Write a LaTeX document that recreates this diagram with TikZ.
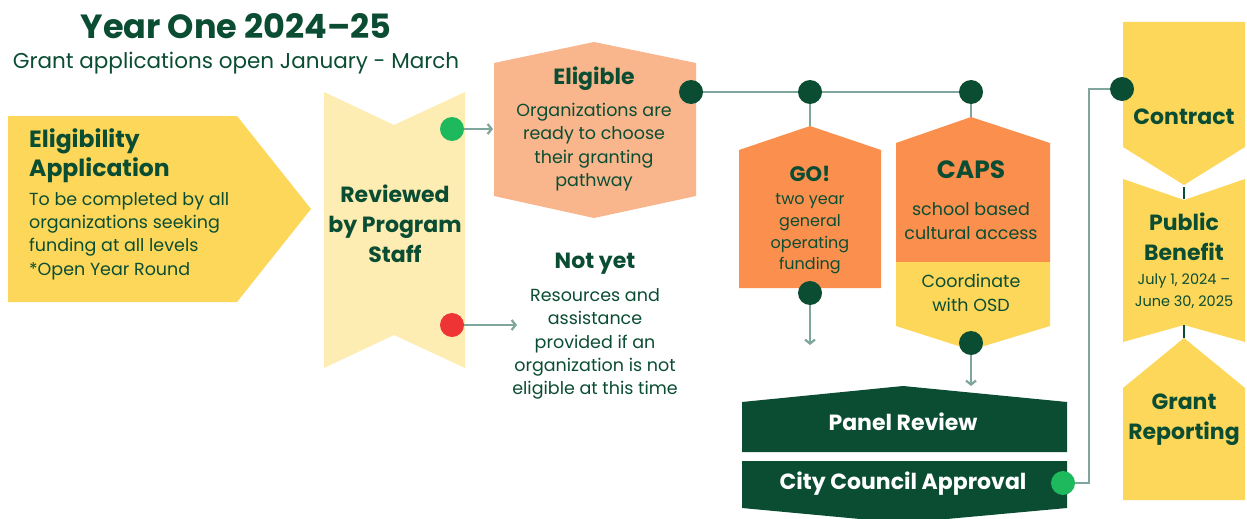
\documentclass[tikz,border=0pt]{standalone}
\usepackage{fontspec}
\setmainfont{Poppins}
\usepackage{tikz}
\usetikzlibrary{arrows.meta}

\definecolor{pinegreen}{HTML}{0B4D33}
\definecolor{sunyellow}{HTML}{FCD75A}
\definecolor{paleyellow}{HTML}{FDEDB3}
\definecolor{peach}{HTML}{F9B58B}
\definecolor{tangerine}{HTML}{FB8F4D}
\definecolor{gogreen}{HTML}{1DB95C}
\definecolor{stopred}{HTML}{EE3434}
\definecolor{sage}{HTML}{7FA69C}

\begin{document}
\begin{tikzpicture}
    \tikzset{x={(1pt, 0pt)}, y={(0pt, -1pt)},
        head/.style={inner sep=0pt, text=pinegreen, align=center, font=\fontsize{22}{30}\selectfont\bfseries},
        body/.style={inner sep=0pt, text=pinegreen, align=center, font=\fontsize{17.5}{23.3}\selectfont},
        small/.style={inner sep=0pt, text=pinegreen, align=center, font=\fontsize{16}{21.7}\selectfont},
        dot/.style={circle, inner sep=0pt, minimum size=24pt},
        link/.style={draw=sage, line width=2.6pt},
        flow/.style={link, -{Straight Barb[length=4pt, width=10pt, line width=2.2pt]}},
        joint/.style={draw=pinegreen, line width=2pt}}
    \useasboundingbox (0, 0) rectangle (1247, 519);
    \fill[white] (0, 0) rectangle (1247, 519);

    % title
    \node[inner sep=0pt, text=pinegreen, font=\fontsize{33.5}{38}\selectfont\bfseries] (title) at (236, 26) {Year One 2024--25};
    \node[inner sep=0pt, text=pinegreen, font=\fontsize{21.5}{25}\selectfont] (subtitle) at (236, 63) {Grant applications open January - March};

    % shapes
    \fill[sunyellow]  (   8, 116) -- ( 237, 116) -- ( 311, 209) -- ( 237, 302) -- (   8, 302) -- cycle;
    \fill[paleyellow] ( 324,  92) -- ( 394, 125) -- ( 465,  92) -- ( 465, 368) -- ( 394, 335) -- ( 324, 368) -- cycle;
    \fill[peach]      ( 594,  42) -- ( 696,  63) -- ( 696, 196) -- ( 594, 218) -- ( 494, 196) -- ( 494,  63) -- cycle;
    \fill[tangerine]  ( 810, 126) -- ( 881, 150) -- ( 881, 288) -- ( 739, 288) -- ( 739, 150) -- cycle;
    \fill[tangerine]  ( 971, 117) -- (1050, 143) -- (1050, 262) -- ( 896, 262) -- ( 896, 143) -- cycle;
    \fill[sunyellow]  ( 896, 262) -- (1050, 262) -- (1050, 326) -- ( 971, 350) -- ( 896, 326) -- cycle;
    \fill[pinegreen]  ( 903, 386) -- (1067, 402) -- (1067, 452) -- ( 742, 452) -- ( 742, 402) -- cycle;
    \fill[pinegreen]  ( 742, 461) -- (1067, 461) -- (1067, 508) -- ( 903, 523) -- ( 742, 508) -- cycle;
    \fill[sunyellow]  (1123,  22) -- (1245,  22) -- (1245, 147) -- (1184, 185) -- (1123, 147) -- cycle;
    \fill[sunyellow]  (1123, 179) -- (1184, 200) -- (1245, 179) -- (1245, 342) -- (1184, 325) -- (1123, 342) -- cycle;
    \fill[sunyellow]  (1184, 338) -- (1245, 388) -- (1245, 500) -- (1123, 500) -- (1123, 388) -- cycle;

    % texts
    \node[head, align=left, font=\fontsize{23.5}{29}\selectfont\bfseries, anchor=west] (apphead) at (29, 156) {Eligibility\\Application};
    \node[body, align=left, anchor=west] (appbody) at (29, 236) {To be completed by all\\organizations seeking\\funding at all levels\\*Open Year Round};
    \node[head] (reviewed) at (395, 224) {Reviewed\\by Program\\Staff};
    \node[head] (elighead) at (594, 79) {Eligible};
    \node[body] (eligbody) at (594, 147) {Organizations are\\ready to choose\\their granting\\pathway};
    \node[head] (notyethead) at (595, 264) {Not yet};
    \node[body] (notyetbody) at (595, 344) {Resources and\\assistance\\provided if an\\organization is not\\eligible at this time};
    \node[head, font=\fontsize{21}{26}\selectfont\bfseries] (gohead) at (810, 174) {GO!};
    \node[small] (gobody) at (810, 234) {two year\\general\\operating\\funding};
    \node[head, font=\fontsize{25}{30}\selectfont\bfseries] (capshead) at (971, 170) {CAPS};
    \node[body] (capsbody) at (971, 221) {school based\\cultural access};
    \node[body] (osd) at (971, 293) {Coordinate\\with OSD};
    \node[head, text=white] (panel) at (903, 422) {Panel Review};
    \node[head, text=white] (council) at (903, 484) {City Council Approval};
    \node[head] (contract) at (1184, 117) {Contract};
    \node[head] (benefit) at (1184, 237) {Public\\Benefit};
    \node[small, font=\fontsize{14.5}{22}\selectfont] (dates) at (1184, 291) {July 1, 2024 --\\June 30, 2025};
    \node[head] (reporting) at (1184, 420) {Grant\\Reporting};

    % dots
    \node[dot, fill=gogreen] (okdot) at (452, 129) {};
    \node[dot, fill=stopred] (nodot) at (452, 325) {};
    \node[dot, fill=pinegreen] (eligdot) at (691, 92) {};
    \node[dot, fill=pinegreen] (godot) at (810, 92) {};
    \node[dot, fill=pinegreen] (capsdot) at (971, 92) {};
    \node[dot, fill=pinegreen] (goend) at (810, 293) {};
    \node[dot, fill=pinegreen] (capsend) at (971, 343) {};
    \node[dot, fill=gogreen] (councildot) at (1063, 483) {};
    \node[dot, fill=pinegreen] (contractdot) at (1122, 89) {};

    \coordinate (eligin) at (493, 129);
    \coordinate (helpin) at (517, 325);
    \coordinate (gotop) at (810, 126);
    \coordinate (capstop) at (971, 117);
    \coordinate (goout) at (810, 345);
    \coordinate (paneltop) at (971, 386);
    \coordinate (riser) at (1089, 89);
    \coordinate (contracttip) at (1184, 187);
    \coordinate (benefittop) at (1184, 199);
    \coordinate (benefitfoot) at (1184, 325);
    \coordinate (reporttop) at (1184, 338);

    % connectors
    \draw[flow] (okdot) -- (eligin);
    \draw[flow] (nodot) -- (helpin);
    \draw[link] (eligdot) -- (godot);
    \draw[link] (godot) -- (capsdot);
    \draw[link] (godot) -- (gotop);
    \draw[link] (capsdot) -- (capstop);
    \draw[flow] (goend) -- (goout);
    \draw[flow] (capsend) -- (paneltop);
    \draw[link] (councildot) -| (riser) -- (contractdot);
    \draw[joint] (contracttip) -- (benefittop);
    \draw[joint] (benefitfoot) -- (reporttop);
\end{tikzpicture}
\end{document}
